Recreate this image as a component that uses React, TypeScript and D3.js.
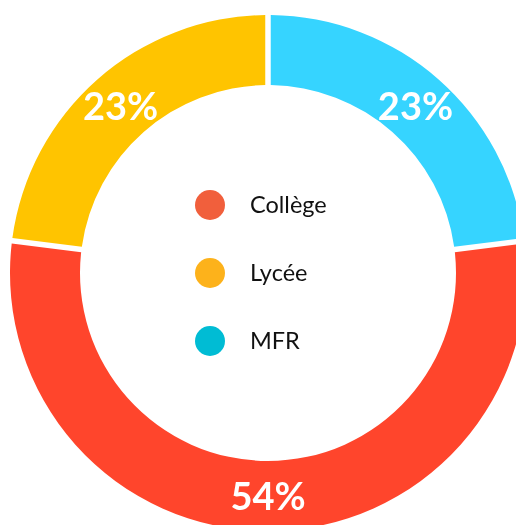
import React from "react";
import { pie, arc } from "d3";

// share of pupils by type of school (percent)
const categories = ["Collège", "Lycée", "MFR"];
const values = [54, 23, 23];
const sliceColors = ["#ff452c", "#ffc400", "#36d4ff"];
const legendColors = ["#f15f3c", "#fdb21b", "#00bcd4"];

const width = 516;
const height = 525;
const cx = 268;
const cy = 273;
const outerR = 258;
const innerR = 188;

export default function App() {
  const total = values.reduce((a, b) => a + b, 0);
  // MFR sits in the top right, so the ring starts after it
  const start = (values[2] / total) * 2 * Math.PI;

  const slices = pie<number>()
    .sort(null)
    .startAngle(start)
    .endAngle(start + 2 * Math.PI)(values);

  const arcGen = arc<any>()
    .innerRadius(innerR)
    .outerRadius(outerR)
    .padAngle(5.5 / outerR)
    .padRadius(outerR);

  const labelArc = arc<any>()
    .innerRadius((innerR + outerR) / 2)
    .outerRadius((innerR + outerR) / 2);

  return (
    <div style={{ position: "fixed", left: 0, top: 0 }}>
      <svg width={width} height={height} style={{ display: "block" }}>
        <g transform={`translate(${cx},${cy})`}>
          {slices.map((s, i) => (
            <path key={categories[i]} d={arcGen(s) as string} fill={sliceColors[i]} />
          ))}
          {slices.map((s, i) => {
            const [lx, ly] = labelArc.centroid(s);
            return (
              <text
                key={categories[i] + "-lbl"}
                x={lx}
                y={ly}
                dy="0.38em"
                textAnchor="middle"
                fill="#fff"
                style={{ fontFamily: "Lato", fontSize: "38px", fontWeight: 700 }}
              >
                {Math.round((values[i] / total) * 100)}%
              </text>
            );
          })}
        </g>
        {categories.map((c, i) => (
          <g key={c + "-leg"} transform={`translate(210,${205 + i * 68})`}>
            <circle r={15} fill={legendColors[i]} />
            <text
              x={40}
              dy="0.36em"
              fill="#111"
              style={{ fontFamily: "Lato", fontSize: "23.5px" }}
            >
              {c}
            </text>
          </g>
        ))}
      </svg>
    </div>
  );
}
